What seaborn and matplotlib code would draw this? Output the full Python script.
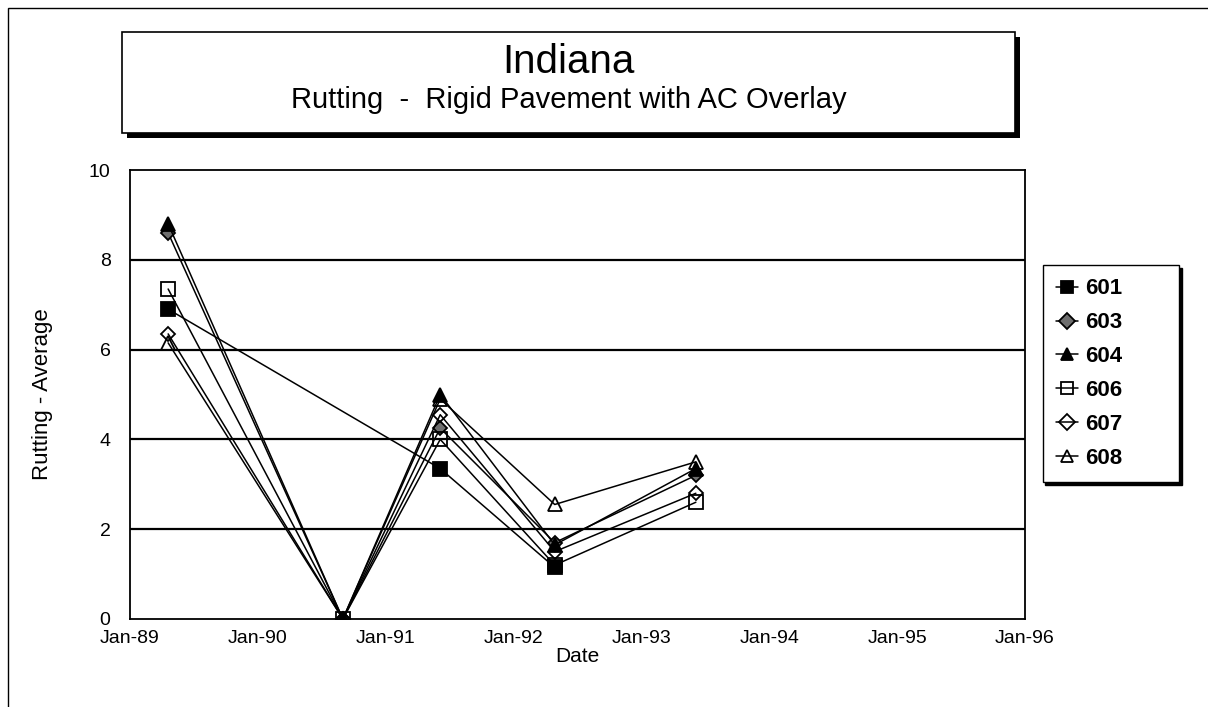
import pandas as pd
import numpy as np
import matplotlib
matplotlib.use('Agg')
import matplotlib.pyplot as plt
import matplotlib.dates as mdates
from matplotlib.patches import Rectangle
import seaborn as sns

# survey dates and average rutting per section
dates = pd.to_datetime(['1989-04-20', '1990-09-01', '1991-06-06', '1992-04-28', '1993-06-05'])
sections = ['601', '603', '604', '606', '607', '608']
s601 = [6.9, np.nan, 3.35, 1.15, np.nan]
s603 = [8.6, 0.0, 4.25, 1.7, 3.2]
s604 = [8.8, 0.0, 5.0, 1.65, 3.35]
s606 = [7.35, 0.0, 4.0, 1.2, 2.6]
s607 = [6.35, 0.0, 4.55, 1.5, 2.8]
s608 = [6.15, 0.0, 4.9, 2.55, 3.5]
values = [s601, s603, s604, s606, s607, s608]

markers = {'601': 's', '603': 'D', '604': '^', '606': 's', '607': 'D', '608': '^'}
faces = {'601': 'black', '603': '#6e6e6e', '604': 'black',
         '606': 'none', '607': 'none', '608': 'none'}
msizes = {'601': 10, '603': 7, '604': 10, '606': 10, '607': 7, '608': 10}

rows = []
for name, vals in zip(sections, values):
    for d, v in zip(dates, vals):
        if not np.isnan(v):
            rows.append({'Date': d, 'Rutting': v, 'Section': name})
df = pd.DataFrame(rows)

sns.set_style('white')
plt.rcParams['font.family'] = ['Liberation Sans', 'DejaVu Sans']
plt.rcParams['text.color'] = 'black'
plt.rcParams['axes.labelcolor'] = 'black'

fig = plt.figure(figsize=(12.08, 7.07), dpi=100)
ax = fig.add_axes([0.1076, 0.1245, 0.7409, 0.635])

for name in sections:
    sub = df[df['Section'] == name]
    sns.lineplot(data=sub, x='Date', y='Rutting', ax=ax, color='black', lw=1.1,
                 marker=markers[name], markersize=msizes[name],
                 markerfacecolor=faces[name], markeredgecolor='black',
                 markeredgewidth=1.3, label=name, legend=False)

ax.set_xlim(pd.Timestamp('1989-01-01'), pd.Timestamp('1996-01-01'))
ax.set_ylim(0, 10)
ax.set_yticks([0, 2, 4, 6, 8, 10])
ax.xaxis.set_major_locator(mdates.YearLocator())
ax.xaxis.set_major_formatter(mdates.DateFormatter('%b-%y'))
for y in [2, 4, 6, 8]:
    ax.axhline(y, color='black', lw=1.6, zorder=0)
for sp in ax.spines.values():
    sp.set_color('black')
    sp.set_linewidth(1.3)
ax.tick_params(axis='x', direction='in', length=6, width=1, labelsize=14, pad=8, colors='black')
ax.tick_params(axis='y', direction='out', length=5, width=1, labelsize=14, pad=9, colors='black')
for lab in ax.get_xticklabels() + ax.get_yticklabels():
    lab.set_fontweight('medium')
ax.set_xlabel('Date', fontsize=15, labelpad=0)
ax.set_ylabel('Rutting - Average', fontsize=16, labelpad=26)

leg = ax.legend(loc='upper left', bbox_to_anchor=(0.863, 0.615, 0.113, 0.01),
                bbox_transform=fig.transFigure, mode='expand',
                frameon=True, fancybox=False, shadow={'color': 'black', 'alpha': 1},
                prop={'size': 16, 'weight': 'bold'}, handlelength=1.0, handletextpad=0.3,
                labelspacing=0.58, borderpad=0.6, borderaxespad=0)
leg.get_frame().set_edgecolor('black')
leg.get_frame().set_linewidth(1.0)
for h in leg.legend_handles:
    h.set_markersize(8)

# title box with shadow
W, H = 1208, 707
x0, x1, y0, y1 = 122, 1015, 32, 133
fig.patches.append(Rectangle((x0 / W + 5 / W, 1 - y1 / H - 5 / H), (x1 - x0) / W, (y1 - y0) / H,
                             transform=fig.transFigure, facecolor='black', edgecolor='none', zorder=1))
fig.patches.append(Rectangle((x0 / W, 1 - y1 / H), (x1 - x0) / W, (y1 - y0) / H,
                             transform=fig.transFigure, facecolor='white', edgecolor='black', lw=1.2, zorder=2))
fig.text((x0 + x1) / 2 / W, 1 - 62 / H, 'Indiana', ha='center', va='center', fontsize=29, zorder=3)
fig.text((x0 + x1) / 2 / W, 1 - 100 / H, 'Rutting  -  Rigid Pavement with AC Overlay',
         ha='center', va='center', fontsize=21, zorder=3)

# outer chart border
fig.patches.append(Rectangle((8 / W, -0.1), 1.2, 1 - 8 / H + 0.1, transform=fig.transFigure,
                             facecolor='none', edgecolor='black', lw=1.0, zorder=0))

fig.savefig('out.png', dpi=100)
